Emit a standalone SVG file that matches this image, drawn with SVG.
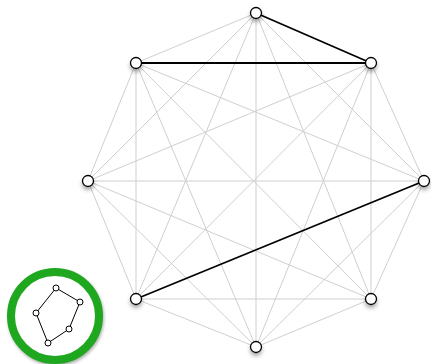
<svg xmlns="http://www.w3.org/2000/svg" width="431" height="364" viewBox="0 0 431 364">
<defs>
<style>
.e{stroke:#cfcfcf;stroke-width:1;fill:none}
.b{stroke:#000;stroke-width:1.8;fill:none}
.n{fill:#fff;stroke:#000;stroke-width:1.3}
.s{fill:#000;opacity:0.35;filter:url(#blur)}
.m{fill:#fff;stroke:#000;stroke-width:1}
</style>
<filter id="blur" x="-1" y="-1" width="3" height="3"><feGaussianBlur stdDeviation="2.2"/></filter>
<filter id="gblur" x="-0.2" y="-0.2" width="1.4" height="1.4"><feGaussianBlur stdDeviation="1.5"/></filter>
</defs>
<rect width="431" height="364" fill="#fff"/>
<g id="connectors">
<line class="e" x1="256" y1="13" x2="136" y2="63"/>
<line class="e" x1="256" y1="13" x2="88" y2="181"/>
<line class="e" x1="256" y1="13" x2="136" y2="299"/>
<line class="e" x1="256" y1="13" x2="256" y2="347"/>
<line class="e" x1="256" y1="13" x2="371" y2="299"/>
<line class="e" x1="256" y1="13" x2="424" y2="181"/>
<line class="e" x1="371" y1="63" x2="424" y2="181"/>
<line class="e" x1="371" y1="63" x2="371" y2="299"/>
<line class="e" x1="371" y1="63" x2="256" y2="347"/>
<line class="e" x1="371" y1="63" x2="136" y2="299"/>
<line class="e" x1="371" y1="63" x2="88" y2="181"/>
<line class="e" x1="424" y1="181" x2="371" y2="299"/>
<line class="e" x1="424" y1="181" x2="256" y2="347"/>
<line class="e" x1="424" y1="181" x2="88" y2="181"/>
<line class="e" x1="424" y1="181" x2="136" y2="63"/>
<line class="e" x1="371" y1="299" x2="256" y2="347"/>
<line class="e" x1="371" y1="299" x2="136" y2="299"/>
<line class="e" x1="371" y1="299" x2="88" y2="181"/>
<line class="e" x1="371" y1="299" x2="136" y2="63"/>
<line class="e" x1="256" y1="347" x2="136" y2="299"/>
<line class="e" x1="256" y1="347" x2="88" y2="181"/>
<line class="e" x1="256" y1="347" x2="136" y2="63"/>
<line class="e" x1="136" y1="299" x2="88" y2="181"/>
<line class="e" x1="136" y1="299" x2="136" y2="63"/>
<line class="e" x1="88" y1="181" x2="136" y2="63"/>
<line class="b" x1="256" y1="13" x2="371" y2="63"/>
<line class="b" x1="136" y1="63" x2="371" y2="63"/>
<line class="b" x1="136" y1="299" x2="424" y2="181"/>
</g>
<g id="n1"><circle class="s" cx="256" cy="16" r="6"/><circle class="n" cx="256" cy="13" r="5.5"/></g>
<g id="n2"><circle class="s" cx="371" cy="66" r="6"/><circle class="n" cx="371" cy="63" r="5.5"/></g>
<g id="n3"><circle class="s" cx="424" cy="184" r="6"/><circle class="n" cx="424" cy="181" r="5.5"/></g>
<g id="n4"><circle class="s" cx="371" cy="302" r="6"/><circle class="n" cx="371" cy="299" r="5.5"/></g>
<g id="n5"><circle class="s" cx="256" cy="350" r="6"/><circle class="n" cx="256" cy="347" r="5.5"/></g>
<g id="n6"><circle class="s" cx="136" cy="302" r="6"/><circle class="n" cx="136" cy="299" r="5.5"/></g>
<g id="n7"><circle class="s" cx="88" cy="184" r="6"/><circle class="n" cx="88" cy="181" r="5.5"/></g>
<g id="n8"><circle class="s" cx="136" cy="66" r="6"/><circle class="n" cx="136" cy="63" r="5.5"/></g>
<g id="thumbnail">
<circle cx="56" cy="318" r="44" fill="none" stroke="#000" stroke-opacity="0.3" stroke-width="8" filter="url(#gblur)"/>
<circle cx="55" cy="316" r="44" fill="#fff" stroke="#1fa81f" stroke-width="8"/>
<polygon points="56,288 80,302 69,329 48,343 36,313" fill="none" stroke="#000" stroke-width="1"/>
<circle class="m" cx="56" cy="288" r="3"/>
<circle class="m" cx="80" cy="302" r="3"/>
<circle class="m" cx="69" cy="329" r="3"/>
<circle class="m" cx="48" cy="343" r="3"/>
<circle class="m" cx="36" cy="313" r="3"/>
</g>
</svg>
